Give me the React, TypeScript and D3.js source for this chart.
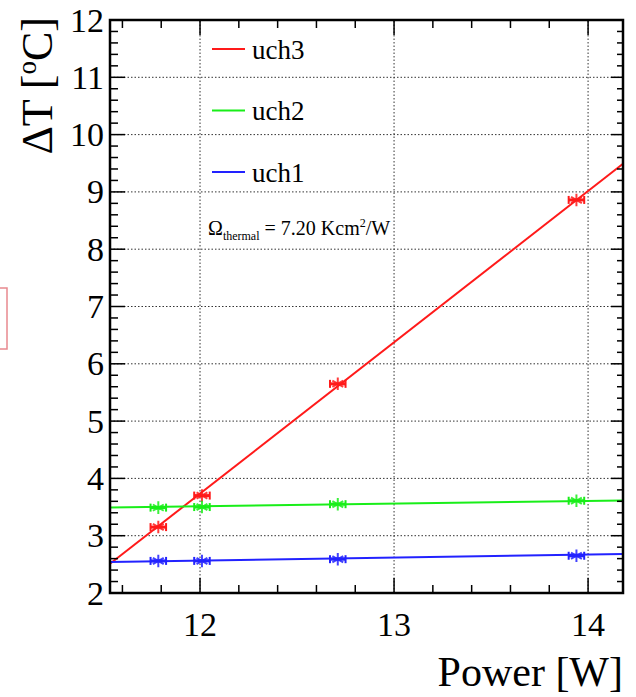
import React from "react";
import * as d3 from "d3";

// measured power values [W] and temperature differences [°C]
const power = [11.785, 12.01, 12.71, 13.94];
const uch3 = [3.15, 3.7, 5.65, 8.86];
const uch2 = [3.49, 3.5, 3.55, 3.61];
const uch1 = [2.56, 2.56, 2.59, 2.65];

// linear fits: value at 12 W and slope per W
const fitAt12 = { uch3: 3.735, uch2: 3.515, uch1: 2.565 };
const fitSlope = { uch3: 2.64, uch2: 0.045, uch1: 0.053 };

const xMajor = [12, 13, 14];
const yMajor = [2, 3, 4, 5, 6, 7, 8, 9, 10, 11, 12];

const series = [
  { name: "uch3", values: uch3, color: "#ff1a1a" },
  { name: "uch2", values: uch2, color: "#19ee19" },
  { name: "uch1", values: uch1, color: "#2222ff" },
];

const W = 636;
const H = 697;
const margin = { top: 20, right: 13, bottom: 104, left: 110 };
const font = "'Liberation Serif', 'Times New Roman', serif";

export default function App() {
  const x = d3
    .scaleLinear()
    .domain([11.536, 14.18])
    .range([margin.left, W - margin.right]);
  const y = d3
    .scaleLinear()
    .domain([2, 12])
    .range([H - margin.bottom, margin.top]);

  const [x0, x1] = x.range();
  const [yb, yt] = y.range();

  const xMinor = d3.range(11.6, 14.19, 0.2).filter((v) => !xMajor.some((m) => Math.abs(m - v) < 1e-6));
  const yMinor = d3.range(2, 12.001, 0.2).filter((v) => !yMajor.some((m) => Math.abs(m - v) < 1e-6));

  const star = d3.symbol(d3.symbolAsterisk, 110);
  const errHalf = x(11.536 + 0.04) - x(11.536);

  return (
    <svg
      width={W}
      height={H}
      style={{ position: "absolute", left: 0, top: 0, background: "#fff" }}
      fontFamily={font}
    >
      {/* partial pink box at the left edge */}
      <rect x={-10} y={288} width={17} height={61} fill="none" stroke="#e8898f" strokeWidth={1.5} />

      {/* grid */}
      <g stroke="#333" strokeWidth={1} strokeDasharray="1.5,2">
        {xMajor.map((v) => (
          <line key={"gx" + v} x1={x(v)} x2={x(v)} y1={yb} y2={yt} />
        ))}
        {yMajor.slice(1, -1).map((v) => (
          <line key={"gy" + v} x1={x0} x2={x1} y1={y(v)} y2={y(v)} />
        ))}
      </g>

      {/* fit lines */}
      {series.map((s) => {
        const f = (p: number) => fitAt12[s.name] + fitSlope[s.name] * (p - 12);
        const pts = x.domain().map((p) => [x(p), y(f(p))] as [number, number]);
        return (
          <path
            key={"fit" + s.name}
            d={d3.line()(pts) || ""}
            stroke={s.color}
            strokeWidth={2}
            fill="none"
          />
        );
      })}

      {/* points with x error bars */}
      {series.map((s) =>
        s.values.map((v, i) => (
          <g key={s.name + i} transform={`translate(${x(power[i])},${y(v)})`} stroke={s.color}>
            <line x1={-errHalf} x2={errHalf} y1={0} y2={0} strokeWidth={3} />
            <line x1={-errHalf} x2={-errHalf} y1={-4} y2={4} strokeWidth={2} />
            <line x1={errHalf} x2={errHalf} y1={-4} y2={4} strokeWidth={2} />
            <path d={star() || ""} fill="none" strokeWidth={2} opacity={0.85} />
          </g>
        ))
      )}

      {/* ticks */}
      <g stroke="#000" strokeWidth={1.5}>
        {xMajor.map((v) => (
          <g key={"tx" + v}>
            <line x1={x(v)} x2={x(v)} y1={yb} y2={yb - 15} />
            <line x1={x(v)} x2={x(v)} y1={yt} y2={yt + 15} />
          </g>
        ))}
        {xMinor.map((v) => (
          <g key={"mx" + v}>
            <line x1={x(v)} x2={x(v)} y1={yb} y2={yb - 8} />
            <line x1={x(v)} x2={x(v)} y1={yt} y2={yt + 8} />
          </g>
        ))}
        {yMajor.map((v) => (
          <g key={"ty" + v}>
            <line x1={x0} x2={x0 + 15} y1={y(v)} y2={y(v)} />
            <line x1={x1} x2={x1 - 12} y1={y(v)} y2={y(v)} />
          </g>
        ))}
        {yMinor.map((v) => (
          <g key={"my" + v}>
            <line x1={x0} x2={x0 + 8} y1={y(v)} y2={y(v)} />
            <line x1={x1} x2={x1 - 6} y1={y(v)} y2={y(v)} />
          </g>
        ))}
      </g>

      {/* frame */}
      <rect x={x0} y={yt} width={x1 - x0} height={yb - yt} fill="none" stroke="#000" strokeWidth={2.5} />

      {/* tick labels */}
      <g fontSize={34} fill="#000">
        {yMajor.map((v) => (
          <text key={"ly" + v} x={x0 - 6} y={y(v)} dy="0.34em" textAnchor="end">
            {v}
          </text>
        ))}
        {xMajor.map((v) => (
          <text key={"lx" + v} x={x(v)} y={yb + 43} textAnchor="middle">
            {v}
          </text>
        ))}
      </g>

      {/* axis titles */}
      <text x={x1} y={686} fontSize={42} textAnchor="end">
        Power [W]
      </text>
      <text transform={`translate(52,${yt - 3}) rotate(-90)`} fontSize={44} textAnchor="end">
        ΔT [<tspan fontSize={27} dy={-16}>o</tspan>
        <tspan dy={16}>C]</tspan>
      </text>

      {/* legend */}
      {series.map((s, i) => (
        <g key={"lg" + s.name} transform={`translate(212,${49 + i * 61.5})`}>
          <line x1={0} x2={33} y1={0} y2={0} stroke={s.color} strokeWidth={2} />
          <text x={40} y={0} dy="0.36em" fontSize={27}>
            {s.name}
          </text>
        </g>
      ))}

      {/* annotation */}
      <text x={208} y={235} fontSize={20}>
        Ω
        <tspan fontSize={12} dy={5}>thermal</tspan>
        <tspan dy={-5}> = 7.20 Kcm</tspan>
        <tspan fontSize={12} dy={-8}>2</tspan>
        <tspan dy={8}>/W</tspan>
      </text>
    </svg>
  );
}
